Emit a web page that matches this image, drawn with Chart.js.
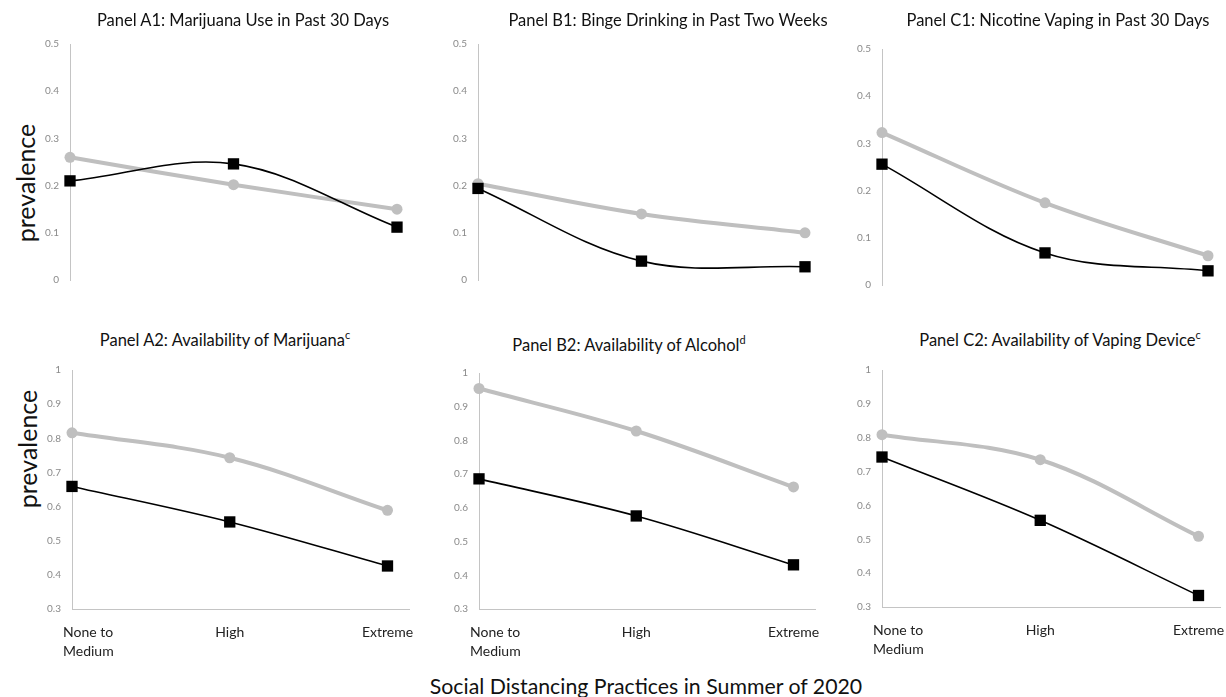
<!DOCTYPE html>
<html>
<head>
<meta charset="utf-8">
<script src="https://cdn.jsdelivr.net/npm/chart.js@4.4.1/dist/chart.umd.min.js"></script>
<style>
  html, body { margin: 0; padding: 0; background: #fff; overflow: hidden; }
  body { width: 1226px; height: 697px; position: relative; font-family: Lato, "Open Sans", sans-serif; }
  canvas { position: absolute; }
  .title { position: absolute; font-size: 16.5px; color: #111; white-space: nowrap; transform: translate(-50%, -50%); }
  .title sup { font-size: 11px; vertical-align: 7px; line-height: 0; }
  .ylab { position: absolute; font-size: 25px; color: #111; white-space: nowrap; transform: translate(-50%, -50%) rotate(-90deg); }
  #xtitle { position: absolute; left: 646px; top: 686px; font-size: 21.3px; color: #111; white-space: nowrap; transform: translate(-50%, -50%); }
</style>
</head>
<body>
<div class="ylab" style="left:25px; top:183px;">prevalence</div>
<div class="ylab" style="left:27px; top:449px;">prevalence</div>
<div id="xtitle">Social Distancing Practices in Summer of 2020</div>
<script>
// x categories (social distancing level)
const categories = [['None to', 'Medium'], 'High', 'Extreme'];

// y ranges
const useRange = [0, 0.5];
const availRange = [0.3, 1];

// Panel A1: marijuana use
const marijuanaUseGray = [0.26, 0.202, 0.15];
const marijuanaUseBlack = [0.21, 0.246, 0.112];
// Panel B1: binge drinking
const bingeGray = [0.204, 0.14, 0.10];
const bingeBlack = [0.194, 0.04, 0.028];
// Panel C1: nicotine vaping
const vapingGray = [0.323, 0.174, 0.062];
const vapingBlack = [0.256, 0.068, 0.03];
// Panel A2: availability of marijuana
const marijuanaAvailGray = [0.816, 0.743, 0.589];
const marijuanaAvailBlack = [0.659, 0.555, 0.426];
// Panel B2: availability of alcohol
const alcoholAvailGray = [0.954, 0.828, 0.662];
const alcoholAvailBlack = [0.686, 0.576, 0.431];
// Panel C2: availability of vaping device
const deviceAvailGray = [0.809, 0.735, 0.509];
const deviceAvailBlack = [0.743, 0.556, 0.334];

const panels = [
  { title: 'Panel A1: Marijuana Use in Past 30 Days', sup: '', tx: 243, ty: 20, gray: marijuanaUseGray, black: marijuanaUseBlack, range: useRange, row: 1, left: 70, top: 37, bottom: 287, last: 397 },
  { title: 'Panel B1: Binge Drinking in Past Two Weeks', sup: '', tx: 668, ty: 20, gray: bingeGray, black: bingeBlack, range: useRange, row: 1, left: 478, top: 37, bottom: 287, last: 805 },
  { title: 'Panel C1: Nicotine Vaping in Past 30 Days', sup: '', tx: 1058, ty: 20, gray: vapingGray, black: vapingBlack, range: useRange, row: 1, left: 882, top: 42, bottom: 292, last: 1208 },
  { title: 'Panel A2: Availability of Marijuana', sup: 'c', tx: 225, ty: 340, gray: marijuanaAvailGray, black: marijuanaAvailBlack, range: availRange, row: 2, left: 72, top: 363, bottom: 609, last: 392 },
  { title: 'Panel B2: Availability of Alcohol', sup: 'd', tx: 629, ty: 345, gray: alcoholAvailGray, black: alcoholAvailBlack, range: availRange, row: 2, left: 479, top: 366, bottom: 609, last: 798 },
  { title: 'Panel C2: Availability of Vaping Device', sup: 'c', tx: 1060, ty: 340, gray: deviceAvailGray, black: deviceAvailBlack, range: availRange, row: 2, left: 882, top: 363, bottom: 607, last: 1203 }
];

const axisGray = '#c4c4c4';
const tickGray = '#8a8a8a';
const lineGray = '#bfbfbf';

function toPoints(values) {
  return values.map((v, i) => ({ x: i, y: v }));
}

function makePanel(p) {
  const bottomRow = p.row === 2;
  const xMax = bottomRow ? 2.14 : 2;
  const areaRight = p.left + (p.last - p.left) * xMax / 2;
  const yW = 40, padTop = 10, padRight = 14;
  const xH = bottomRow ? 50 : 0;
  const padBottom = bottomRow ? 0 : 10;

  const cv = document.createElement('canvas');
  const cl = p.left - yW;
  const ct = p.top - padTop;
  cv.width = Math.round(areaRight + padRight - cl);
  cv.height = p.bottom + xH + padBottom - ct;
  cv.style.left = cl + 'px';
  cv.style.top = ct + 'px';
  document.body.appendChild(cv);

  const t = document.createElement('div');
  t.className = 'title';
  t.style.left = p.tx + 'px';
  t.style.top = p.ty + 'px';
  t.textContent = p.title;
  if (p.sup) {
    const s = document.createElement('sup');
    s.textContent = p.sup;
    t.appendChild(s);
  }
  document.body.appendChild(t);

  const scales = {
    y: {
      min: p.range[0],
      max: p.range[1],
      afterFit: (s) => { s.width = yW; },
      grid: { display: false, drawTicks: false },
      border: { display: true, color: axisGray, width: 1 },
      ticks: {
        stepSize: 0.1,
        padding: 11,
        color: tickGray,
        font: { family: 'Lato', size: 10 },
        callback: (v) => String(+v.toFixed(1))
      }
    },
    x: {
      type: 'linear',
      min: 0,
      max: xMax,
      display: bottomRow,
      afterFit: (s) => { s.height = xH; },
      grid: { display: false, drawTicks: false },
      border: { display: true, color: axisGray, width: 1 },
      ticks: {
        stepSize: 1,
        includeBounds: false,
        autoSkip: false,
        maxRotation: 0,
        padding: 14,
        color: '#222',
        font: { family: 'Lato', size: 14, lineHeight: 1.35 },
        callback: (v) => (v === 1 || v === 2) ? categories[v] : null
      }
    }
  };

  if (bottomRow) {
    // first category label sits left-aligned on the axis start
    scales.x2 = {
      type: 'linear',
      axis: 'x',
      position: { y: p.range[0] },
      min: 0,
      max: xMax,
      grid: { display: false, drawTicks: false },
      border: { display: false },
      ticks: {
        stepSize: 1,
        includeBounds: false,
        autoSkip: false,
        maxRotation: 0,
        align: 'start',
        labelOffset: -9,
        padding: 14,
        color: '#222',
        font: { family: 'Lato', size: 14, lineHeight: 1.35 },
        callback: (v) => v === 0 ? categories[0] : null
      }
    };
  }

  new Chart(cv, {
    type: 'line',
    data: {
      datasets: [
        {
          data: toPoints(p.black),
          borderColor: '#000',
          borderWidth: 1.6,
          backgroundColor: '#000',
          pointStyle: 'rect',
          pointRadius: 8,
          pointBorderWidth: 0,
          pointBackgroundColor: '#000',
          tension: 0.35,
          clip: false
        },
        {
          data: toPoints(p.gray),
          borderColor: lineGray,
          borderWidth: 4,
          backgroundColor: lineGray,
          pointStyle: 'circle',
          pointRadius: 5.5,
          pointBorderWidth: 0,
          pointBackgroundColor: lineGray,
          tension: 0.35,
          clip: false
        }
      ]
    },
    options: {
      responsive: false,
      animation: false,
      layout: { padding: { top: padTop, right: padRight, bottom: padBottom, left: 0 } },
      scales: scales,
      plugins: {
        legend: { display: false },
        tooltip: { enabled: false }
      }
    }
  });
}

panels.forEach(makePanel);
</script>
</body>
</html>
